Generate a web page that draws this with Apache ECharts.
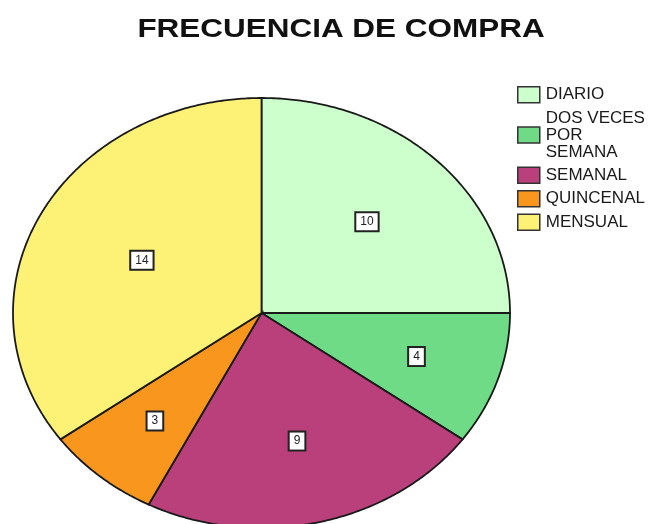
<!DOCTYPE html>
<html>
<head>
<meta charset="utf-8">
<script src="https://cdn.jsdelivr.net/npm/echarts@6/dist/echarts.min.js"></script>
<style>
  html, body { margin: 0; background: #fff; }
  #chart { width: 660px; height: 524px; }
</style>
</head>
<body>
<div id="chart"></div>
<script>
const categories = ['DIARIO', 'DOS VECES POR SEMANA', 'SEMANAL', 'QUINCENAL', 'MENSUAL']
const legendLabels = ['DIARIO', 'DOS VECES\nPOR\nSEMANA', 'SEMANAL', 'QUINCENAL', 'MENSUAL']
const counts = [10, 4, 9, 3, 14]
const colors = ['#ccffcc', '#70db87', '#b9407b', '#f8961d', '#fdf275']

const chart = echarts.init(document.getElementById('chart'))

const total = counts.reduce((a, b) => a + b, 0)
const starts = []
let acc = 0
counts.forEach(v => { starts.push(acc); acc += v })

// the reference pie is stretched into an ellipse
const cx = 261.5, cy = 313, rx = 248.5, ry = 215

function renderSlice(params, api) {
  const i = params.seriesIndex
  const v = api.value(0)
  const a0 = Math.PI / 2 - 2 * Math.PI * starts[i] / total
  const a1 = Math.PI / 2 - 2 * Math.PI * (starts[i] + v) / total
  const steps = Math.max(2, Math.ceil(Math.abs(a0 - a1) / 0.01))
  const pts = [[cx, cy]]
  for (let k = 0; k <= steps; k++) {
    const a = a0 + (a1 - a0) * k / steps
    pts.push([cx + rx * Math.cos(a), cy - ry * Math.sin(a)])
  }
  // label sits on the sector centroid
  const half = (a0 - a1) / 2
  const mid = (a0 + a1) / 2
  const d = 2 * Math.sin(half) / (3 * half)
  return {
    type: 'group',
    children: [{
      type: 'polygon',
      shape: { points: pts },
      style: { fill: api.visual('color'), stroke: '#1a1a1a', lineWidth: 1.8 }
    }, {
      type: 'text',
      x: cx + rx * d * Math.cos(mid),
      y: cy - ry * d * Math.sin(mid),
      z2: 10,
      style: {
        text: String(v),
        align: 'center',
        verticalAlign: 'middle',
        font: '12px "Liberation Sans", Arial, sans-serif',
        fill: '#222',
        backgroundColor: '#fff',
        borderColor: '#222',
        borderWidth: 2,
        padding: [3, 4, 2, 4]
      }
    }]
  }
}

const option = {
  animation: false,
  graphic: [{
    type: 'text',
    x: 341,
    y: 30,
    scaleX: 1.21,
    style: {
      text: 'FRECUENCIA DE COMPRA',
      align: 'center',
      verticalAlign: 'middle',
      font: 'bold 26px "Liberation Sans", Arial, sans-serif',
      fill: '#111'
    }
  }],
  legend: {
    orient: 'vertical',
    left: 512,
    top: 81,
    icon: 'rect',
    itemWidth: 22,
    itemHeight: 16,
    itemGap: 6,
    itemStyle: { borderColor: '#333', borderWidth: 1.5 },
    textStyle: {
      fontFamily: '"Liberation Sans", Arial, sans-serif',
      fontSize: 17,
      lineHeight: 17,
      color: '#1a1a1a',
      padding: [0, 0, 0, 1]
    },
    formatter: name => legendLabels[categories.indexOf(name)],
    data: categories
  },
  series: categories.map((name, i) => ({
    name: name,
    type: 'custom',
    coordinateSystem: 'none',
    itemStyle: { color: colors[i] },
    renderItem: renderSlice,
    data: [[counts[i]]]
  }))
}

chart.setOption(option)
</script>
</body>
</html>
